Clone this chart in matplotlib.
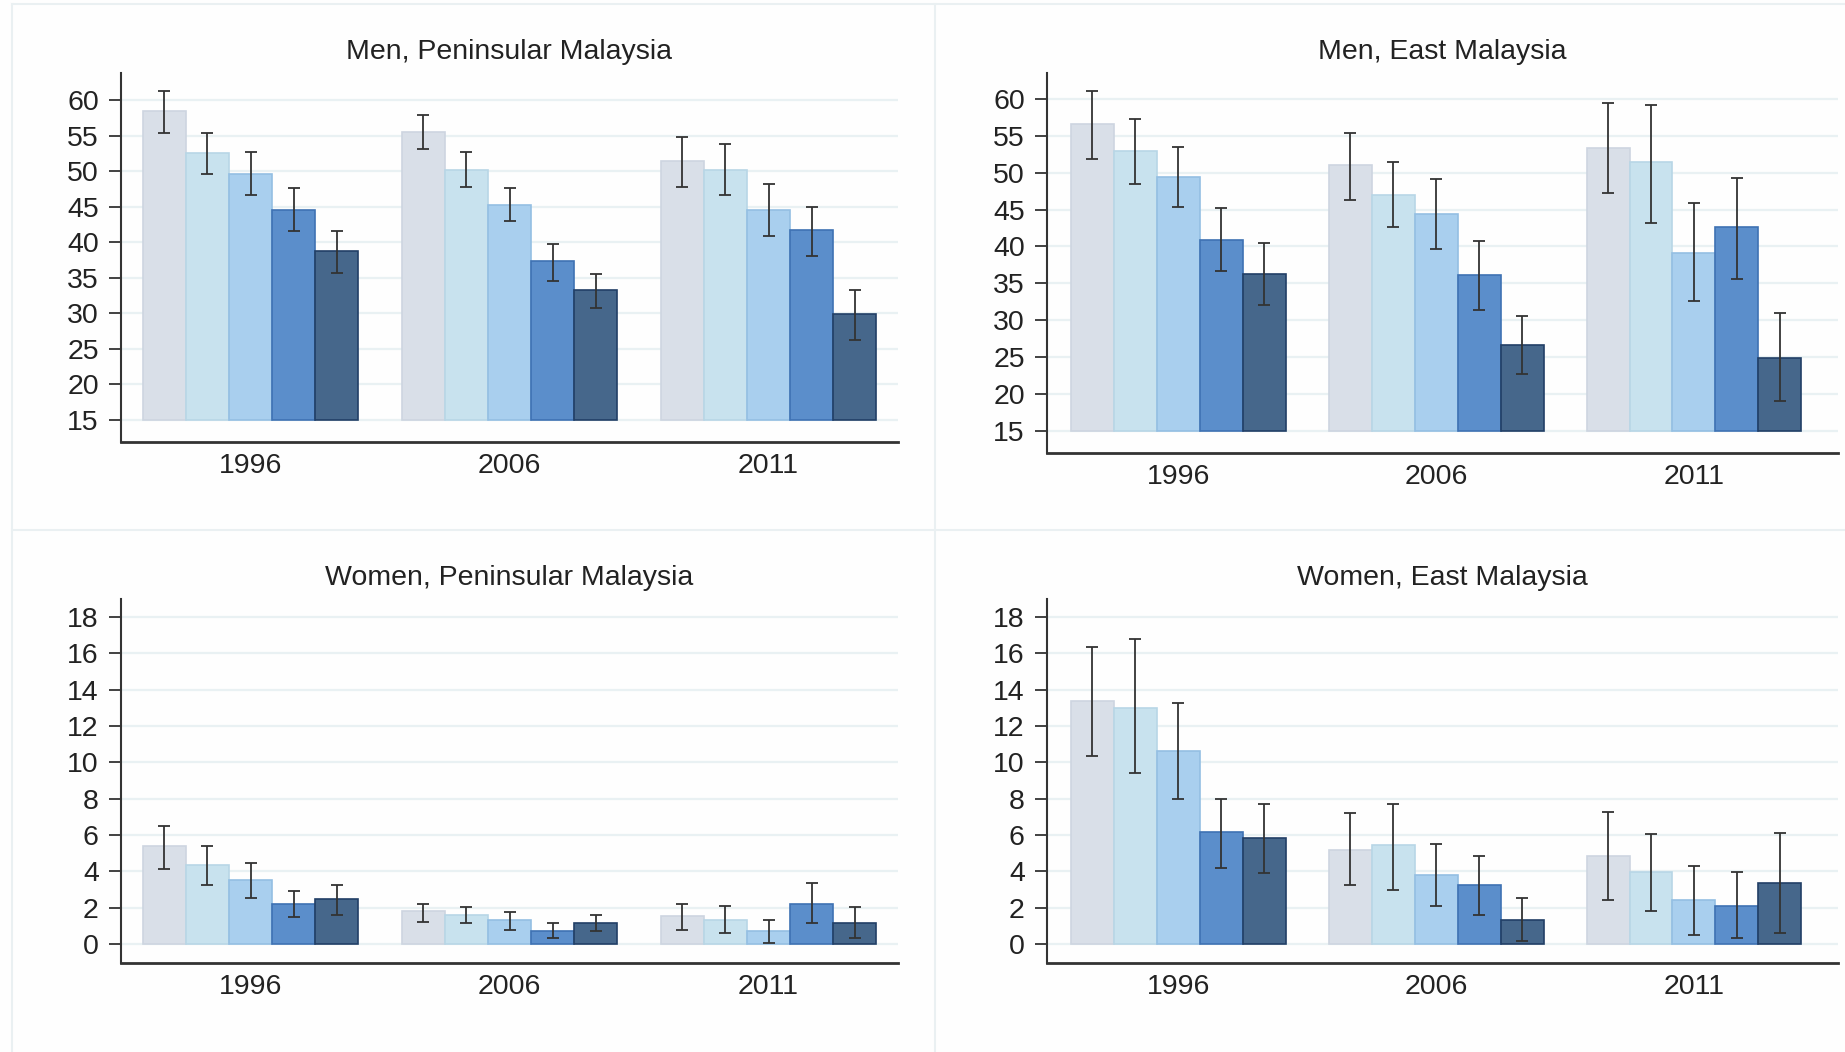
import numpy as np
import matplotlib.pyplot as plt
from matplotlib.lines import Line2D

plt.rcParams['font.family'] = ['Liberation Sans', 'DejaVu Sans']

years = ['1996', '2006', '2011']
colors = ['#d9dfe8', '#c8e2ee', '#a9cfee', '#5b8ecb', '#46678b']
edges = ['#cdd5e0', '#b8d6e6', '#94bfe3', '#3f72b3', '#213f66']

# Men, Peninsular Malaysia
men_pen = [[58.4, 52.5, 49.6, 44.6, 38.7],
           [55.5, 50.2, 45.3, 37.4, 33.3],
           [51.4, 50.2, 44.6, 41.7, 29.9]]
men_pen_lo = [[55.4, 49.6, 46.6, 41.6, 35.7],
              [53.1, 47.7, 43.0, 34.6, 30.7],
              [47.7, 46.6, 40.9, 38.0, 26.3]]
men_pen_hi = [[61.3, 55.4, 52.7, 47.6, 41.6],
              [57.9, 52.7, 47.6, 39.8, 35.5],
              [54.8, 53.8, 48.2, 45.0, 33.3]]

# Men, East Malaysia
men_east = [[56.6, 52.9, 49.4, 40.9, 36.3],
            [51.0, 47.0, 44.4, 36.1, 26.7],
            [53.3, 51.4, 39.1, 42.6, 24.9]]
men_east_lo = [[51.9, 48.5, 45.4, 36.7, 32.0],
               [46.3, 42.6, 39.7, 31.4, 22.7],
               [47.2, 43.2, 32.6, 35.6, 19.0]]
men_east_hi = [[61.1, 57.3, 53.5, 45.2, 40.4],
               [55.4, 51.5, 49.1, 40.7, 30.6],
               [59.4, 59.1, 45.9, 49.3, 31.0]]

# Women, Peninsular Malaysia
wom_pen = [[5.37, 4.33, 3.52, 2.2, 2.48],
           [1.8, 1.61, 1.33, 0.72, 1.15],
           [1.52, 1.33, 0.74, 2.2, 1.15]]
wom_pen_lo = [[4.11, 3.24, 2.54, 1.48, 1.59],
              [1.22, 1.15, 0.78, 0.33, 0.69],
              [0.78, 0.59, 0.07, 1.15, 0.33]]
wom_pen_hi = [[6.48, 5.37, 4.48, 2.91, 3.24],
              [2.2, 2.02, 1.76, 1.15, 1.59],
              [2.2, 2.07, 1.3, 3.33, 2.02]]

# Women, East Malaysia
wom_east = [[13.37, 13.0, 10.63, 6.15, 5.81],
            [5.19, 5.46, 3.8, 3.26, 1.31],
            [4.85, 3.96, 2.44, 2.09, 3.33]]
wom_east_lo = [[10.35, 9.39, 8.0, 4.2, 3.93],
               [3.24, 2.96, 2.07, 1.57, 0.17],
               [2.44, 1.83, 0.5, 0.33, 0.59]]
wom_east_hi = [[16.33, 16.78, 13.26, 8.0, 7.7],
               [7.2, 7.7, 5.52, 4.85, 2.52],
               [7.26, 6.06, 4.3, 3.96, 6.13]]

fig = plt.figure(figsize=(18.45, 10.52), dpi=100, facecolor='#fefefe')

# faint panel frames
W, H = 1845, 1052
sep = '#eaf0f2'
for xs, ys in [([935, 935], [4, 1052]), ([12, 1845], [530, 530]),
               ([12, 12], [4, 1052]), ([12, 1845], [4, 4])]:
    fig.add_artist(Line2D([x / W for x in xs], [1 - y / H for y in ys], color=sep, lw=1.5))


def panel(rect, title, mean, lo, hi, base, ylim, yticks, xlim):
    ax = fig.add_axes(rect)
    ax.set_facecolor('none')
    for g in range(3):
        for j in range(5):
            x = 6 * g + j - 2
            m = mean[g][j]
            ax.bar(x, m - base, bottom=base, width=1.0, color=colors[j],
                   edgecolor=edges[j], linewidth=1.2, zorder=2)
            ax.errorbar(x, m, yerr=[[m - lo[g][j]], [hi[g][j] - m]], fmt='none',
                        ecolor='#333333', elinewidth=1.3, capsize=4, capthick=1.3, zorder=3)
    ax.set_xlim(*xlim)
    ax.set_ylim(*ylim)
    ax.set_yticks(yticks)
    ax.set_xticks([0, 6, 12])
    ax.set_xticklabels(years)
    for t in yticks:
        ax.axhline(t, color='#e9f1f3', lw=1.6, zorder=1)
    ax.spines['top'].set_visible(False)
    ax.spines['right'].set_visible(False)
    ax.spines['left'].set_color('#333333')
    ax.spines['bottom'].set_color('#333333')
    ax.spines['left'].set_linewidth(1.5)
    ax.spines['bottom'].set_linewidth(2)
    ax.tick_params(axis='y', length=9, width=1.3, color='#333333', labelsize=20.5,
                   labelcolor='#222222', pad=7)
    ax.tick_params(axis='x', length=0, labelsize=20.5, labelcolor='#222222', pad=8)
    ax.set_title(title, fontsize=20.5, color='#222222', pad=10)
    return ax


l1, l2 = 121 / W, 1047 / W
w1, w2 = (898 - 121) / W, (1838 - 1047) / W
top_b, top_h = 1 - 442 / H, (442 - 73) / H
top2_b, top2_h = 1 - 453 / H, (453 - 73) / H
bot_b, bot_h = 1 - 963 / H, (963 - 599) / H
xl1 = (-3.0, 15.0)
xl2 = (-3.05, 15.35)

panel([l1, top_b, w1, top_h], 'Men, Peninsular Malaysia', men_pen, men_pen_lo, men_pen_hi,
      15, (11.9, 63.8), np.arange(15, 61, 5), xl1)
panel([l2, top2_b, w2, top2_h], 'Men, East Malaysia', men_east, men_east_lo, men_east_hi,
      15, (12.0, 63.5), np.arange(15, 61, 5), xl2)
panel([l1, bot_b, w1, bot_h], 'Women, Peninsular Malaysia', wom_pen, wom_pen_lo, wom_pen_hi,
      0, (-1.05, 19.0), np.arange(0, 19, 2), xl1)
panel([l2, bot_b, w2, bot_h], 'Women, East Malaysia', wom_east, wom_east_lo, wom_east_hi,
      0, (-1.05, 19.0), np.arange(0, 19, 2), xl2)

plt.savefig('out.png', dpi=100, facecolor=fig.get_facecolor())
